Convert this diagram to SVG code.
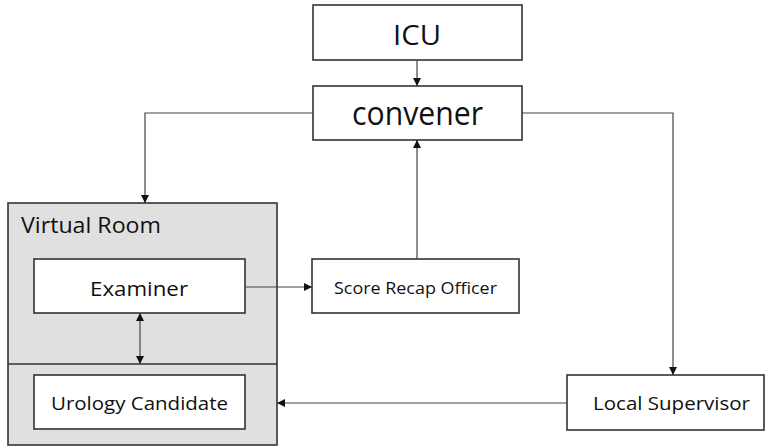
<svg xmlns="http://www.w3.org/2000/svg" width="767" height="446" viewBox="0 0 767 446">
  <style>
    .box { fill: #ffffff; stroke: #333333; stroke-width: 1.6; }
    .room { fill: #e0e0e0; stroke: #333333; stroke-width: 1.6; }
    .lbl { font-family: "Open Sans", "Liberation Sans", Arial, sans-serif; fill: #111111; text-anchor: middle; }
    .edge { fill: none; stroke: #444444; stroke-width: 1.2; }
  </style>
  <defs>
    <marker id="arrow" viewBox="0 0 10 10" refX="10" refY="5" markerWidth="8" markerHeight="8" markerUnits="userSpaceOnUse" orient="auto-start-reverse">
      <path d="M0,0 L10,5 L0,10 z" fill="#111111"/>
    </marker>
  </defs>

  <!-- container: virtual room -->
  <g id="virtual-room">
    <rect class="room" x="8" y="203" width="269" height="242"/>
    <line x1="8" y1="364" x2="277" y2="364" stroke="#333333" stroke-width="1.6"/>
    <text class="lbl" x="21" y="233" font-size="21" style="text-anchor:start" textLength="140" lengthAdjust="spacingAndGlyphs">Virtual Room</text>
  </g>

  <g id="icu">
    <rect class="box" x="313" y="5" width="209" height="55"/>
    <text class="lbl" x="417" y="45" font-size="28" textLength="48" lengthAdjust="spacingAndGlyphs">ICU</text>
  </g>

  <g id="convener">
    <rect class="box" x="313" y="86" width="209" height="54"/>
    <text class="lbl" x="417.5" y="125" font-size="33" textLength="131" lengthAdjust="spacingAndGlyphs">convener</text>
  </g>

  <g id="examiner">
    <rect class="box" x="34" y="259" width="211" height="54"/>
    <text class="lbl" x="139" y="296" font-size="20" textLength="98" lengthAdjust="spacingAndGlyphs">Examiner</text>
  </g>

  <g id="urology-candidate">
    <rect class="box" x="34" y="375" width="211" height="54"/>
    <text class="lbl" x="139.5" y="410" font-size="18" textLength="177" lengthAdjust="spacingAndGlyphs">Urology Candidate</text>
  </g>

  <g id="score-recap-officer">
    <rect class="box" x="312" y="259" width="207" height="54"/>
    <text class="lbl" x="415.5" y="294" font-size="17" textLength="163" lengthAdjust="spacingAndGlyphs">Score Recap Officer</text>
  </g>

  <g id="local-supervisor">
    <rect class="box" x="567" y="375" width="197" height="55"/>
    <text class="lbl" x="671.5" y="410" font-size="19" textLength="157" lengthAdjust="spacingAndGlyphs">Local Supervisor</text>
  </g>

  <g id="connectors">
    <!-- ICU to convener -->
    <line class="edge" x1="417" y1="60" x2="417" y2="86" marker-end="url(#arrow)"/>
    <!-- convener to virtual room -->
    <polyline class="edge" points="313,113 145,113 145,203" marker-end="url(#arrow)"/>
    <!-- convener to local supervisor -->
    <polyline class="edge" points="522,113 673,113 673,375" marker-end="url(#arrow)"/>
    <!-- examiner to score recap officer -->
    <line class="edge" x1="245" y1="287" x2="312" y2="287" marker-end="url(#arrow)"/>
    <!-- score recap officer to convener -->
    <line class="edge" x1="417" y1="259" x2="417" y2="140" marker-end="url(#arrow)"/>
    <!-- examiner and urology candidate, both ways -->
    <line class="edge" x1="140" y1="313" x2="140" y2="364" marker-start="url(#arrow)" marker-end="url(#arrow)"/>
    <!-- local supervisor to virtual room -->
    <line class="edge" x1="567" y1="403" x2="277" y2="403" marker-end="url(#arrow)"/>
  </g>
</svg>
